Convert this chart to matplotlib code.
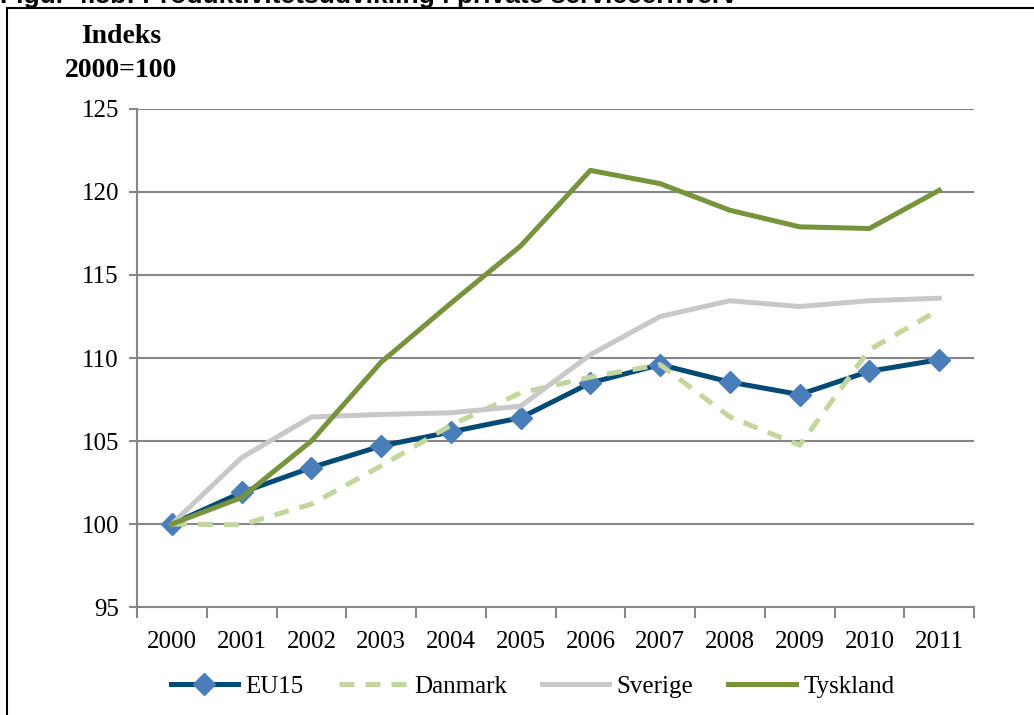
import matplotlib
matplotlib.use("Agg")
from matplotlib import pyplot as plt
from matplotlib.lines import Line2D

years = [2000, 2001, 2002, 2003, 2004, 2005, 2006, 2007, 2008, 2009, 2010, 2011]
eu15 = [100, 101.9, 103.4, 104.7, 105.55, 106.4, 108.5, 109.6, 108.55, 107.8, 109.2, 109.9]
danmark = [100, 99.95, 101.2, 103.5, 105.95, 107.9, 108.85, 109.6, 106.45, 104.75, 110.5, 112.9]
sverige = [100, 104.0, 106.45, 106.6, 106.7, 107.1, 110.2, 112.5, 113.45, 113.1, 113.45, 113.6]
tyskland = [100, 101.6, 105.0, 109.75, 113.3, 116.75, 121.3, 120.5, 118.9, 117.9, 117.8, 120.1]
yticks = [95, 100, 105, 110, 115, 120, 125]

plt.rcParams['font.family'] = ['Liberation Serif', 'DejaVu Serif']

fig = plt.figure(figsize=(10.34, 7.15), dpi=100)
ax = fig.add_axes([0.1325, 0.151, 0.8095, 0.6966])

x = list(range(len(years)))
ax.plot(x, eu15, color='#004a75', lw=3.6, marker='D', ms=11,
        mfc='#4a7ebb', mec='#4a7ebb', label='EU15', zorder=3)
ax.plot(x, danmark, color='#c3d69b', lw=3.6, ls=(0, (3, 2.2)), label='Danmark', zorder=4)
ax.plot(x, sverige, color='#c8c8c8', lw=3.6, label='Sverige', zorder=5)
ax.plot(x, tyskland, color='#77933c', lw=3.6, label='Tyskland', zorder=6)

ax.set_xlim(-0.5, len(years) - 0.5)
ax.set_ylim(95, 125)
ax.set_yticks(yticks)
ax.set_yticklabels([str(v) for v in yticks], fontsize=18)
ax.yaxis.grid(True, color='#868686', lw=1.5)
ax.set_axisbelow(True)

# category labels centred, tick marks between categories
ax.set_xticks(x)
ax.set_xticklabels([str(y) for y in years], fontsize=18)
ax.tick_params(axis='x', length=0, pad=17)
ax.set_xticks([i - 0.5 for i in range(len(years) + 1)], minor=True)
ax.tick_params(axis='x', which='minor', length=8, width=1.5, color='#868686', direction='out')
ax.tick_params(axis='y', length=6, width=1.5, color='#868686', pad=7)

for s in ['top', 'right']:
    ax.spines[s].set_visible(False)
for s in ['left', 'bottom']:
    ax.spines[s].set_color('#868686')
    ax.spines[s].set_linewidth(1.5)

fig.text(0.117, 0.925, 'Indeks\n2000=100', fontsize=20, fontweight='bold',
         ha='center', va='center', multialignment='center', linespacing=1.5)

leg = fig.legend(loc='center', bbox_to_anchor=(0.515, 0.04), ncol=4, frameon=False,
                 fontsize=18, handlelength=2.7, columnspacing=1.4, handletextpad=0.3)

# outer frame and heading (cut at the top edge, as in the source page)
fig.add_artist(Line2D([7 / 1034, 7 / 1034], [0, 1 - 8 / 715], color='black', lw=1.5))
fig.add_artist(Line2D([7 / 1034, 1], [1 - 8 / 715, 1 - 8 / 715], color='black', lw=1.5))
fig.text(0.0, 1 - 3 / 715, 'Figur 4.3b: Produktivitetsudvikling i private serviceerhverv',
         fontsize=19, fontweight='bold', family=['Liberation Sans', 'DejaVu Sans'],
         ha='left', va='baseline')

fig.savefig('out.png', dpi=100)
